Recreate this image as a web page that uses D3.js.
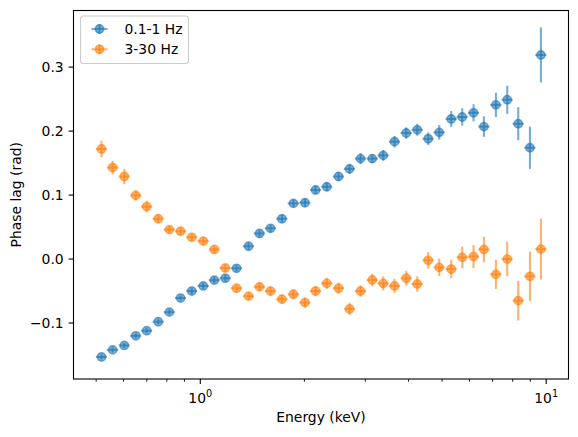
<!DOCTYPE html>
<html>
<head>
<meta charset="utf-8">
<script src="https://cdn.jsdelivr.net/npm/d3@7"></script>
<style>
  body { margin: 0; background: #fff; }
  text { font-family: "DejaVu Sans", sans-serif; fill: #000; }
</style>
</head>
<body>
<div id="viz"></div>
<script>
// energy bins (keV)
var energy = [0.518, 0.558, 0.603, 0.651, 0.700, 0.756, 0.814, 0.877, 0.945, 1.020,
  1.098, 1.181, 1.273, 1.379, 1.483, 1.596, 1.722, 1.859, 2.007, 2.154,
  2.321, 2.510, 2.701, 2.906, 3.142, 3.380, 3.644, 3.939, 4.239, 4.560,
  4.907, 5.314, 5.718, 6.165, 6.606, 7.155, 7.716, 8.302, 8.974, 9.654];
// half widths of the energy bins
var energyErr = [0.019, 0.021, 0.022, 0.024, 0.026, 0.028, 0.030, 0.032, 0.035, 0.038,
  0.040, 0.044, 0.047, 0.051, 0.055, 0.059, 0.064, 0.069, 0.074, 0.080,
  0.086, 0.093, 0.100, 0.107, 0.116, 0.125, 0.135, 0.146, 0.157, 0.169,
  0.182, 0.197, 0.212, 0.228, 0.245, 0.265, 0.285, 0.307, 0.332, 0.357];

// 0.1-1 Hz phase lags
var lagLow = [-0.153, -0.142, -0.135, -0.120, -0.112, -0.098, -0.083, -0.061, -0.050, -0.042,
  -0.033, -0.030, -0.0145, 0.020, 0.040, 0.048, 0.063, 0.087, 0.088, 0.108,
  0.113, 0.129, 0.141, 0.157, 0.157, 0.162, 0.1835, 0.197, 0.202, 0.188,
  0.198, 0.219, 0.222, 0.2286, 0.207, 0.241, 0.249, 0.2115, 0.174, 0.319];
var lagLowErr = [0.004, 0.004, 0.004, 0.004, 0.004, 0.004, 0.004, 0.004, 0.005, 0.005,
  0.005, 0.005, 0.005, 0.006, 0.006, 0.006, 0.006, 0.006, 0.006, 0.007,
  0.007, 0.007, 0.008, 0.0085, 0.007, 0.0085, 0.009, 0.009, 0.0093, 0.010,
  0.0114, 0.0124, 0.0137, 0.0135, 0.016, 0.019, 0.022, 0.026, 0.033, 0.043];

// 3-30 Hz phase lags
var lagHigh = [0.172, 0.143, 0.129, 0.0995, 0.082, 0.063, 0.046, 0.0435, 0.034, 0.028,
  0.015, -0.014, -0.0456, -0.058, -0.0435, -0.050, -0.0627, -0.055, -0.068, -0.050,
  -0.038, -0.0456, -0.078, -0.050, -0.0327, -0.038, -0.042, -0.030, -0.039, -0.002,
  -0.013, -0.0156, 0.0026, 0.004, 0.015, -0.024, 0.0, -0.065, -0.027, 0.0155];
var lagHighErr = [0.013, 0.0106, 0.012, 0.008, 0.0093, 0.007, 0.006, 0.006, 0.006, 0.006,
  0.006, 0.006, 0.006, 0.006, 0.007, 0.007, 0.007, 0.0075, 0.008, 0.008,
  0.0085, 0.0089, 0.0096, 0.009, 0.0098, 0.011, 0.011, 0.0117, 0.012, 0.013,
  0.0137, 0.0145, 0.017, 0.018, 0.020, 0.023, 0.027, 0.031, 0.0386, 0.0475];

var seriesNames = ['0.1-1 Hz', '3-30 Hz'];
var seriesColors = ['#1f77b4', '#ff7f0e'];
var yTicks = [-0.1, 0.0, 0.1, 0.2, 0.3];
var xMajor = [1, 10];
var xMinor = [0.5, 0.6, 0.7, 0.8, 0.9, 2, 3, 4, 5, 6, 7, 8, 9];

var alpha = 0.6;

// plot area
var plotLeft = 73.5, plotRight = 568.5, plotTop = 10.5, plotBottom = 379;

var svg = d3.select('#viz').append('svg')
  .attr('width', 578)
  .attr('height', 437);

svg.append('rect').attr('width', 578).attr('height', 437).attr('fill', '#fff');

var x = d3.scaleLog().domain([0.43, 11.6]).range([plotLeft, plotRight]);
var y = d3.scaleLinear().domain([-0.1875, 0.3885]).range([plotBottom, plotTop]);

// build the two series from the arrays
var series = [lagLow, lagHigh].map(function (vals, s) {
  var errs = s === 0 ? lagLowErr : lagHighErr;
  return {
    name: seriesNames[s],
    color: seriesColors[s],
    points: vals.map(function (v, i) {
      return { e: energy[i], de: energyErr[i], v: v, dv: errs[i] };
    })
  };
});

var plot = svg.append('g');

series.forEach(function (s) {
  var g = plot.append('g');
  // error bars
  g.selectAll('.xerr').data(s.points).enter().append('line')
    .attr('class', 'xerr')
    .attr('x1', function (d) { return x(d.e - d.de); })
    .attr('x2', function (d) { return x(d.e + d.de); })
    .attr('y1', function (d) { return y(d.v); })
    .attr('y2', function (d) { return y(d.v); })
    .attr('stroke', s.color).attr('stroke-opacity', alpha).attr('stroke-width', 2.1);
  g.selectAll('.yerr').data(s.points).enter().append('line')
    .attr('class', 'yerr')
    .attr('x1', function (d) { return x(d.e); })
    .attr('x2', function (d) { return x(d.e); })
    .attr('y1', function (d) { return y(d.v - d.dv); })
    .attr('y2', function (d) { return y(d.v + d.dv); })
    .attr('stroke', s.color).attr('stroke-opacity', alpha).attr('stroke-width', 2.1);
  // markers
  g.selectAll('circle').data(s.points).enter().append('circle')
    .attr('cx', function (d) { return x(d.e); })
    .attr('cy', function (d) { return y(d.v); })
    .attr('r', 4.2)
    .attr('fill', s.color).attr('fill-opacity', alpha)
    .attr('stroke', s.color).attr('stroke-opacity', alpha).attr('stroke-width', 1.4);
});

// frame
svg.append('rect')
  .attr('x', plotLeft).attr('y', plotTop)
  .attr('width', plotRight - plotLeft).attr('height', plotBottom - plotTop)
  .attr('fill', 'none').attr('stroke', '#000').attr('stroke-width', 1.1);

// x axis ticks
var xAxis = svg.append('g');
xAxis.selectAll('.major').data(xMajor).enter().append('line')
  .attr('class', 'major')
  .attr('x1', function (d) { return x(d); }).attr('x2', function (d) { return x(d); })
  .attr('y1', plotBottom).attr('y2', plotBottom + 4.9)
  .attr('stroke', '#000').attr('stroke-width', 1.1);
xAxis.selectAll('.minor').data(xMinor).enter().append('line')
  .attr('class', 'minor')
  .attr('x1', function (d) { return x(d); }).attr('x2', function (d) { return x(d); })
  .attr('y1', plotBottom).attr('y2', plotBottom + 2.8)
  .attr('stroke', '#000').attr('stroke-width', 0.85);
var xLab = xAxis.selectAll('.lab').data(xMajor).enter().append('text')
  .attr('class', 'lab')
  .attr('x', function (d) { return x(d); })
  .attr('y', 403)
  .attr('text-anchor', 'middle')
  .style('font-size', '13.9px');
xLab.append('tspan').text('10');
xLab.append('tspan')
  .attr('dy', -6)
  .style('font-size', '9.7px')
  .text(function (d) { return Math.round(Math.log10(d)); });

svg.append('text')
  .attr('x', (plotLeft + plotRight) / 2)
  .attr('y', 422)
  .attr('text-anchor', 'middle')
  .style('font-size', '13.9px')
  .text('Energy (keV)');

// y axis ticks
var yAxis = svg.append('g');
yAxis.selectAll('line').data(yTicks).enter().append('line')
  .attr('x1', plotLeft - 4.9).attr('x2', plotLeft)
  .attr('y1', function (d) { return y(d); }).attr('y2', function (d) { return y(d); })
  .attr('stroke', '#000').attr('stroke-width', 1.1);
yAxis.selectAll('text').data(yTicks).enter().append('text')
  .attr('x', plotLeft - 9.8)
  .attr('y', function (d) { return y(d); })
  .attr('dy', '0.36em')
  .attr('text-anchor', 'end')
  .style('font-size', '13.9px')
  .text(function (d) { return d3.format('.1f')(d).replace('-', '\u2212'); });

svg.append('text')
  .attr('transform', 'translate(21,' + ((plotTop + plotBottom) / 2) + ') rotate(-90)')
  .attr('text-anchor', 'middle')
  .style('font-size', '13.9px')
  .text('Phase lag (rad)');

// legend
var legend = svg.append('g').attr('transform', 'translate(80.5,16)');
legend.append('rect')
  .attr('width', 108).attr('height', 47.5)
  .attr('rx', 3).attr('ry', 3)
  .attr('fill', '#fff').attr('fill-opacity', 0.8)
  .attr('stroke', '#ccc').attr('stroke-width', 1.1);
var item = legend.selectAll('.item').data(series).enter().append('g')
  .attr('class', 'item')
  .attr('transform', function (d, i) { return 'translate(19,' + (13 + i * 20.3) + ')'; });
item.append('line')
  .attr('x1', -8).attr('x2', 8).attr('y1', 0).attr('y2', 0)
  .attr('stroke', function (d) { return d.color; })
  .attr('stroke-opacity', alpha).attr('stroke-width', 2.1);
item.append('line')
  .attr('x1', 0).attr('x2', 0).attr('y1', -5).attr('y2', 5)
  .attr('stroke', function (d) { return d.color; })
  .attr('stroke-opacity', alpha).attr('stroke-width', 2.1);
item.append('circle')
  .attr('r', 4.2)
  .attr('fill', function (d) { return d.color; }).attr('fill-opacity', alpha)
  .attr('stroke', function (d) { return d.color; }).attr('stroke-opacity', alpha)
  .attr('stroke-width', 1.4);
item.append('text')
  .attr('x', 25)
  .attr('dy', '0.36em')
  .style('font-size', '13.9px')
  .text(function (d) { return d.name; });
</script>
</body>
</html>
